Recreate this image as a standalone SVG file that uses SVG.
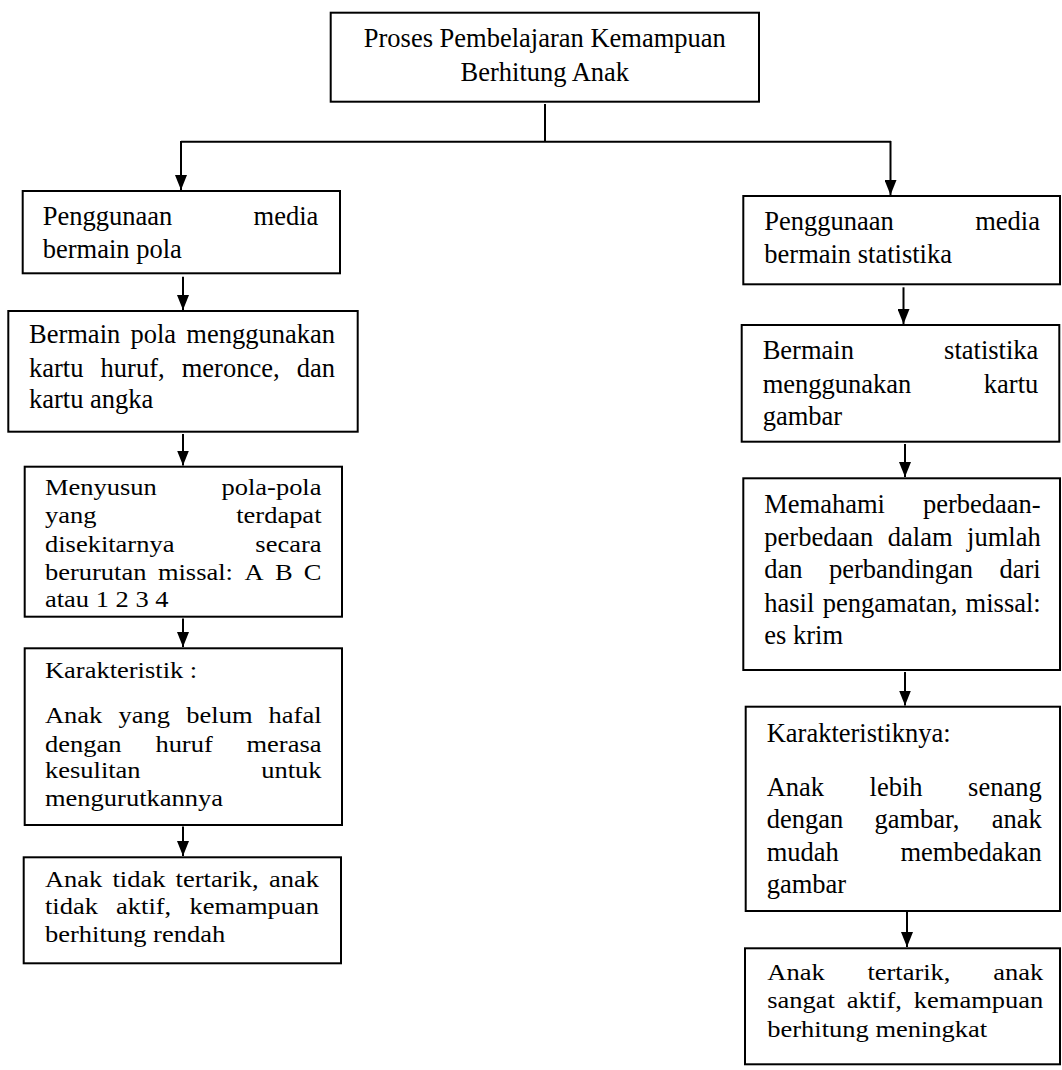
<svg xmlns="http://www.w3.org/2000/svg" width="1062" height="1070" viewBox="0 0 1062 1070">
<defs>
<style>
.box{fill:#fff;stroke:#000;stroke-width:2}
.ln{fill:none;stroke:#000;stroke-width:2}
.t{font-family:"Liberation Serif","Times New Roman",serif;font-size:26.5px;fill:#000}
.e{text-anchor:end}
.c{text-anchor:middle}
</style>
<marker id="ah" viewBox="0 0 15 12" refX="15" refY="6" markerWidth="15" markerHeight="12" markerUnits="userSpaceOnUse" orient="auto">
<path d="M0,0 L15,6 L0,12 Z" fill="#000"/>
</marker>
</defs>
<rect width="1062" height="1070" fill="#fff"/>

<g id="connectors">
<line class="ln" x1="545" y1="104" x2="545" y2="141.7"/>
<line class="ln" x1="181" y1="141.7" x2="891" y2="141.7"/>
<line class="ln" x1="181" y1="141" x2="181" y2="190" marker-end="url(#ah)"/>
<line class="ln" x1="890.5" y1="141" x2="890.5" y2="195" marker-end="url(#ah)"/>
<line class="ln" x1="183" y1="276.7" x2="183" y2="310" marker-end="url(#ah)"/>
<line class="ln" x1="183" y1="434" x2="183" y2="465.5" marker-end="url(#ah)"/>
<line class="ln" x1="183" y1="618.5" x2="183" y2="647" marker-end="url(#ah)"/>
<line class="ln" x1="183" y1="826.5" x2="183" y2="856" marker-end="url(#ah)"/>
<line class="ln" x1="903.5" y1="287.3" x2="903.5" y2="324" marker-end="url(#ah)"/>
<line class="ln" x1="905" y1="444" x2="905" y2="477" marker-end="url(#ah)"/>
<line class="ln" x1="905" y1="672" x2="905" y2="705.5" marker-end="url(#ah)"/>
<line class="ln" x1="907" y1="912" x2="907" y2="947" marker-end="url(#ah)"/>
</g>

<g id="root">
<rect class="box" x="330.7" y="12.7" width="428.3" height="89"/>
<text class="t c" x="544.8" y="46.7">Proses Pembelajaran Kemampuan</text>
<text class="t c" x="544.8" y="81">Berhitung Anak</text>
</g>

<g id="left1">
<rect class="box" x="22.7" y="191" width="317.3" height="82.3"/>
<text class="t" x="42.7" y="225">Penggunaan</text>
<text class="t e" x="318.3" y="225">media</text>
<text class="t" x="42.7" y="258.3">bermain pola</text>
</g>

<g id="left2">
<rect class="box" x="8.3" y="311" width="349.4" height="120.7"/>
<text class="t" x="29" y="343.3">Bermain</text>
<text class="t" x="130.5" y="343.3">pola</text>
<text class="t e" x="335" y="343.3">menggunakan</text>
<text class="t" x="29" y="376.7">kartu</text>
<text class="t" x="100.6" y="376.7">huruf,</text>
<text class="t" x="181.7" y="376.7">meronce,</text>
<text class="t e" x="335" y="376.7">dan</text>
<text class="t" x="29" y="408.3">kartu angka</text>
</g>

<g id="left3">
<rect class="box" x="24.7" y="466.7" width="317.3" height="150"/>
<g transform="scale(1,0.85)">
<text class="t" x="45" y="582.35">Menyusun</text>
<text class="t e" x="321.5" y="582.35">pola-pola</text>
<text class="t" x="45" y="615.65">yang</text>
<text class="t e" x="321.5" y="615.65">terdapat</text>
<text class="t" x="45" y="649.06">disekitarnya</text>
<text class="t e" x="321.5" y="649.06">secara</text>
<text class="t" x="45" y="682.35">berurutan</text>
<text class="t" x="157.9" y="682.35">missal:</text>
<text class="t" x="244.4" y="682.35">A</text>
<text class="t" x="274.9" y="682.35">B</text>
<text class="t e" x="321.5" y="682.35">C</text>
<text class="t" x="45" y="713.76">atau 1 2 3 4</text>
</g>
</g>

<g id="left4">
<rect class="box" x="24.7" y="648.3" width="317.3" height="176.7"/>
<g transform="scale(1,0.85)">
<text class="t" x="45" y="797.29">Karakteristik :</text>
<text class="t" x="45" y="850.94">Anak</text>
<text class="t" x="118.6" y="850.94">yang</text>
<text class="t" x="186.3" y="850.94">belum</text>
<text class="t e" x="321.5" y="850.94">hafal</text>
<text class="t" x="45" y="884.35">dengan</text>
<text class="t" x="155.4" y="884.35">huruf</text>
<text class="t e" x="321.5" y="884.35">merasa</text>
<text class="t" x="45" y="915.65">kesulitan</text>
<text class="t e" x="321.5" y="915.65">untuk</text>
<text class="t" x="45" y="948.24">mengurutkannya</text>
</g>
</g>

<g id="left5">
<rect class="box" x="23.7" y="857.3" width="317.3" height="106"/>
<g transform="scale(1,0.85)">
<text class="t" x="45" y="1043.18">Anak</text>
<text class="t" x="112.5" y="1043.18">tidak</text>
<text class="t" x="175.6" y="1043.18">tertarik,</text>
<text class="t e" x="319" y="1043.18">anak</text>
<text class="t" x="45" y="1075.65">tidak</text>
<text class="t" x="116.1" y="1075.65">aktif,</text>
<text class="t e" x="319" y="1075.65">kemampuan</text>
<text class="t" x="45" y="1107.88">berhitung rendah</text>
</g>
</g>

<g id="right1">
<rect class="box" x="743.3" y="196" width="316.7" height="88.3"/>
<text class="t" x="764.3" y="230">Penggunaan</text>
<text class="t e" x="1040" y="230">media</text>
<text class="t" x="764.3" y="263.3">bermain statistika</text>
</g>

<g id="right2">
<rect class="box" x="741.7" y="325" width="317.6" height="116.7"/>
<text class="t" x="762.7" y="359.3">Bermain</text>
<text class="t e" x="1038.3" y="359.3">statistika</text>
<text class="t" x="762.7" y="392.7">menggunakan</text>
<text class="t e" x="1038.3" y="392.7">kartu</text>
<text class="t" x="762.7" y="425">gambar</text>
</g>

<g id="right3">
<rect class="box" x="743.3" y="478.3" width="316.7" height="191.7"/>
<text class="t" x="764.3" y="512.7">Memahami</text>
<text class="t e" x="1040.7" y="512.7">perbedaan-</text>
<text class="t" x="764.3" y="546">perbedaan</text>
<text class="t" x="887.8" y="546">dalam</text>
<text class="t e" x="1040.7" y="546">jumlah</text>
<text class="t" x="764.3" y="578.3">dan</text>
<text class="t" x="828.9" y="578.3">perbandingan</text>
<text class="t e" x="1040.7" y="578.3">dari</text>
<text class="t" x="764.3" y="611.7">hasil</text>
<text class="t" x="822.7" y="611.7">pengamatan,</text>
<text class="t e" x="1040.7" y="611.7">missal:</text>
<text class="t" x="764.3" y="644">es krim</text>
</g>

<g id="right4">
<rect class="box" x="745.7" y="706.7" width="314.3" height="204.3"/>
<text class="t" x="766.7" y="741.7">Karakteristiknya:</text>
<text class="t" x="766.7" y="796">Anak</text>
<text class="t" x="869.6" y="796">lebih</text>
<text class="t e" x="1041.7" y="796">senang</text>
<text class="t" x="766.7" y="828.3">dengan</text>
<text class="t" x="874.4" y="828.3">gambar,</text>
<text class="t e" x="1041.7" y="828.3">anak</text>
<text class="t" x="766.7" y="860.7">mudah</text>
<text class="t e" x="1041.7" y="860.7">membedakan</text>
<text class="t" x="766.7" y="893.3">gambar</text>
</g>

<g id="right5">
<rect class="box" x="745" y="948.3" width="315" height="116"/>
<g transform="scale(1,0.85)">
<text class="t" x="767.3" y="1152.94">Anak</text>
<text class="t" x="867.4" y="1152.94">tertarik,</text>
<text class="t e" x="1043.3" y="1152.94">anak</text>
<text class="t" x="767.3" y="1186.24">sangat</text>
<text class="t" x="846.8" y="1186.24">aktif,</text>
<text class="t e" x="1043.3" y="1186.24">kemampuan</text>
<text class="t" x="767.3" y="1219.65">berhitung meningkat</text>
</g>
</g>
</svg>
